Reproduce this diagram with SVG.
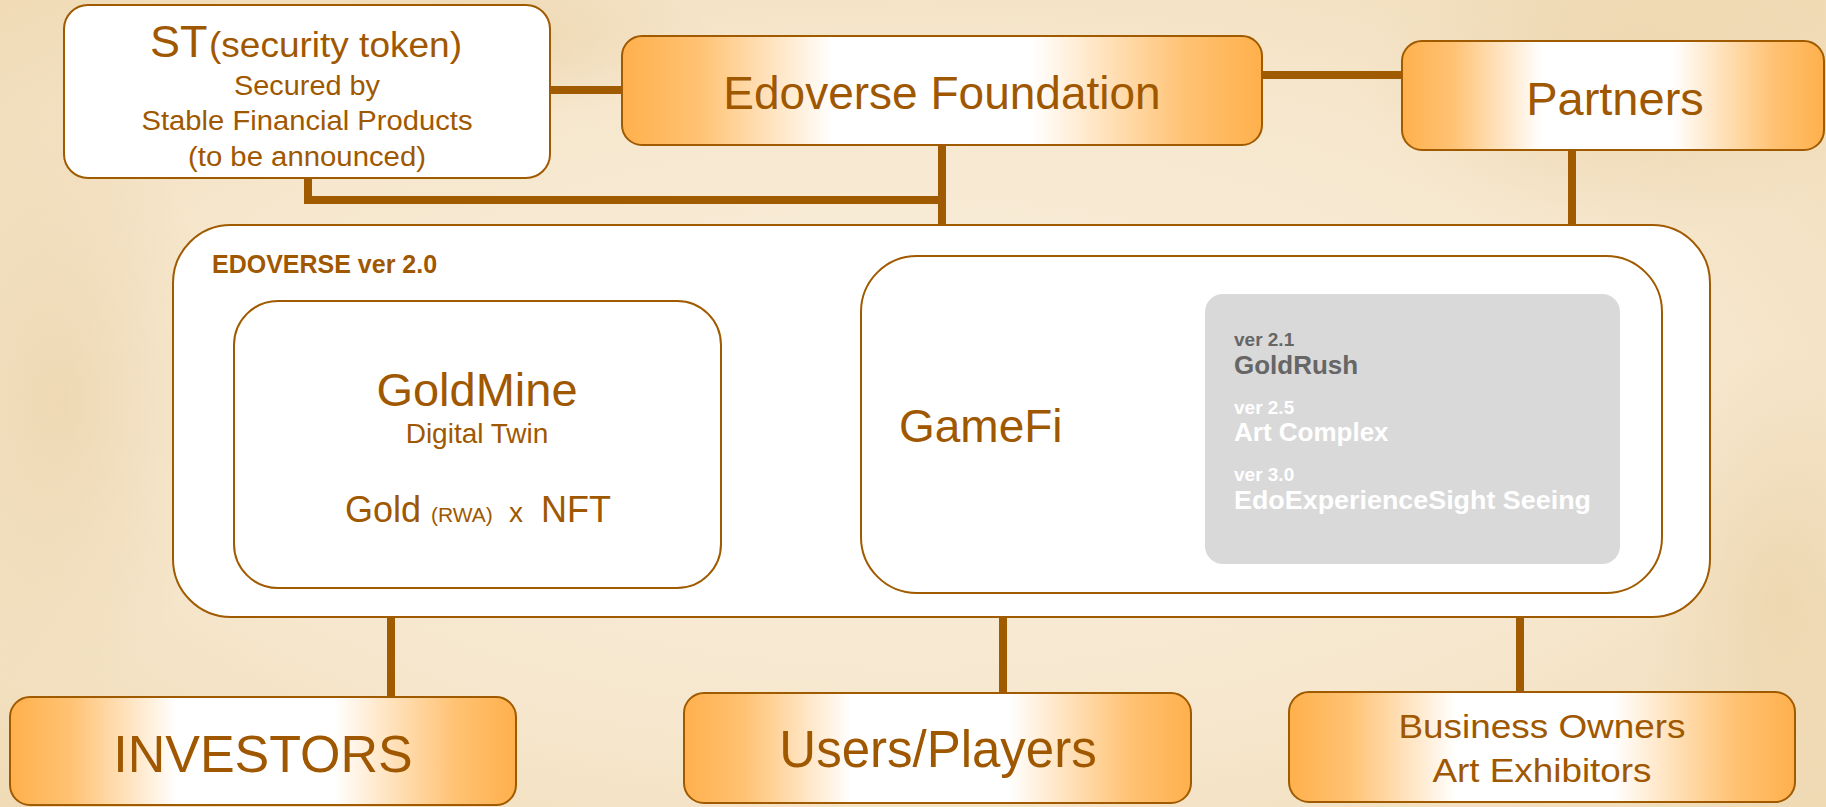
<svg xmlns="http://www.w3.org/2000/svg" width="1826" height="807" viewBox="0 0 1826 807">
<defs>
<linearGradient id="og" x1="0" y1="0" x2="1" y2="0">
<stop offset="0" stop-color="#FFB04C"/>
<stop offset="0.12" stop-color="#FFC273"/>
<stop offset="0.33" stop-color="#FFFFFF"/>
<stop offset="0.64" stop-color="#FFFFFF"/>
<stop offset="0.88" stop-color="#FFC273"/>
<stop offset="1" stop-color="#FFB04C"/>
</linearGradient>
<radialGradient id="bg1" cx="0.5" cy="0.5" r="0.7">
<stop offset="0" stop-color="#FAEFDC"/>
<stop offset="0.6" stop-color="#F6E7CE"/>
<stop offset="1" stop-color="#F0DBB6"/>
</radialGradient>
<radialGradient id="spot" cx="0.5" cy="0.5" r="0.5">
<stop offset="0" stop-color="#E9CFA2" stop-opacity="0.55"/>
<stop offset="1" stop-color="#E9CFA2" stop-opacity="0"/>
</radialGradient>
<style>
.box{stroke:#A05A00;stroke-width:2}
.white{fill:#FFFFFF}
.orange{fill:url(#og)}
.t{font-family:"Liberation Sans",Arial,sans-serif;fill:#A05800}
.c{text-anchor:middle}
.conn{stroke:#A05A00;stroke-width:8;fill:none}
.gv{font-family:"Liberation Sans",Arial,sans-serif;font-weight:bold}
</style>
</defs>
<rect x="0" y="0" width="1826" height="807" fill="url(#bg1)"/>
<ellipse cx="1620" cy="80" rx="260" ry="160" fill="url(#spot)"/>
<ellipse cx="60" cy="400" rx="160" ry="300" fill="url(#spot)"/>
<ellipse cx="1780" cy="600" rx="140" ry="250" fill="url(#spot)"/>
<ellipse cx="500" cy="40" rx="220" ry="80" fill="url(#spot)"/>

<g id="connectors">
<line class="conn" x1="550" y1="90" x2="622" y2="90"/>
<line class="conn" x1="1262" y1="75" x2="1402" y2="75"/>
<polyline class="conn" points="308,178 308,200 942,200"/>
<line class="conn" x1="942" y1="145" x2="942" y2="225"/>
<line class="conn" x1="1572" y1="150" x2="1572" y2="226"/>
<line class="conn" x1="721" y1="398" x2="861" y2="398"/>
<line class="conn" x1="391" y1="588" x2="391" y2="697"/>
<line class="conn" x1="1003" y1="593" x2="1003" y2="693"/>
<line class="conn" x1="1520" y1="614" x2="1520" y2="692"/>
</g>

<g id="st-node">
<rect class="box white" x="64" y="5" width="486" height="173" rx="24"/>
<text class="t" x="150" y="57" font-size="45">ST</text>
<text class="t" x="209" y="57" font-size="35" textLength="253" lengthAdjust="spacingAndGlyphs">(security token)</text>
<text class="t c" x="307" y="95" font-size="27" textLength="146" lengthAdjust="spacingAndGlyphs">Secured by</text>
<text class="t c" x="307" y="130" font-size="27" textLength="331" lengthAdjust="spacingAndGlyphs">Stable Financial Products</text>
<text class="t c" x="307" y="166" font-size="27" textLength="238" lengthAdjust="spacingAndGlyphs">(to be announced)</text>
</g>

<g id="foundation-node">
<rect class="box orange" x="622" y="36" width="640" height="109" rx="20"/>
<text class="t c" x="942" y="109" font-size="46">Edoverse Foundation</text>
</g>

<g id="partners-node">
<rect class="box orange" x="1402" y="41" width="422" height="109" rx="20"/>
<text class="t c" x="1615" y="115" font-size="47">Partners</text>
</g>

<g id="edoverse-node">
<rect class="box white" x="173" y="225" width="1537" height="392" rx="58"/>
<text class="t" x="212" y="273" font-size="25" font-weight="bold">EDOVERSE ver 2.0</text>
</g>

<g id="goldmine-node">
<rect class="box white" x="234" y="301" width="487" height="287" rx="44"/>
<text class="t c" x="477" y="406" font-size="47">GoldMine</text>
<text class="t c" x="477" y="443" font-size="28">Digital Twin</text>
<text class="t" y="522"><tspan x="345" font-size="36">Gold</tspan><tspan x="431" font-size="21">(RWA)</tspan><tspan x="509" font-size="28">x</tspan><tspan x="541" font-size="36">NFT</tspan></text>
</g>

<g id="gamefi-node">
<rect class="box white" x="861" y="256" width="801" height="337" rx="56"/>
<text class="t" x="899" y="442" font-size="46">GameFi</text>
<rect x="1205" y="294" width="415" height="270" rx="18" fill="#D9D9D9"/>
<text class="gv" x="1234" y="346" font-size="19" fill="#666666">ver 2.1</text>
<text class="gv" x="1234" y="374" font-size="26" fill="#666666">GoldRush</text>
<text class="gv" x="1234" y="414" font-size="19" fill="#FFFFFF">ver 2.5</text>
<text class="gv" x="1234" y="441" font-size="26" fill="#FFFFFF">Art Complex</text>
<text class="gv" x="1234" y="481" font-size="19" fill="#FFFFFF">ver 3.0</text>
<text class="gv" x="1234" y="509" font-size="26" fill="#FFFFFF" textLength="357" lengthAdjust="spacingAndGlyphs">EdoExperienceSight Seeing</text>
</g>

<g id="investors-node">
<rect class="box orange" x="10" y="697" width="506" height="108" rx="20"/>
<text class="t c" x="263" y="772" font-size="52">INVESTORS</text>
</g>

<g id="users-node">
<rect class="box orange" x="684" y="693" width="507" height="110" rx="20"/>
<text class="t c" x="938" y="767" font-size="51">Users/Players</text>
</g>

<g id="business-node">
<rect class="box orange" x="1289" y="692" width="506" height="110" rx="20"/>
<text class="t c" x="1542" y="738" font-size="33" textLength="287" lengthAdjust="spacingAndGlyphs">Business Owners</text>
<text class="t c" x="1542" y="782" font-size="33" textLength="219" lengthAdjust="spacingAndGlyphs">Art Exhibitors</text>
</g>
</svg>
